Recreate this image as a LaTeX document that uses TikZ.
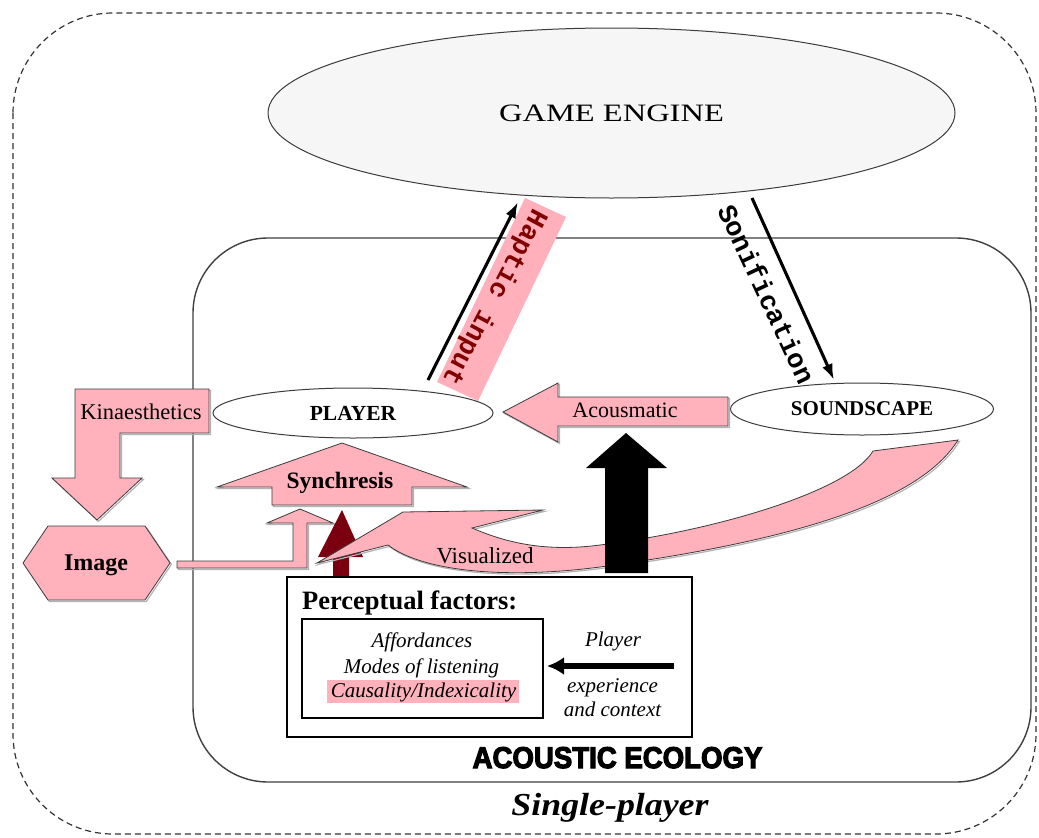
\documentclass[tikz,border=0pt]{standalone}
\usepackage{fontspec}
\setmainfont{Liberation Serif}
\newfontfamily\typefont{Liberation Mono}
\newfontfamily\heavyfont{Liberation Sans}[BoldFeatures={FakeBold=4}]
\usetikzlibrary{shapes.geometric,arrows.meta}
\definecolor{blockpink}{RGB}{255,178,188}
\definecolor{hapticpink}{RGB}{255,176,186}
\definecolor{engfill}{RGB}{246,246,246}
\definecolor{deepred}{RGB}{122,0,16}
\definecolor{haptictext}{RGB}{128,0,0}
\definecolor{edgegray}{RGB}{60,60,60}
\newcommand\fsz[1]{\fontsize{#1}{#1}\selectfont}

\begin{document}
\begin{tikzpicture}[x=1pt,y=-1pt,
  pinkblock/.style={fill=blockpink, draw=edgegray, line width=0.8pt, line join=miter,
    preaction={draw=black!30, line width=1.2pt, transform canvas={shift={(1.4pt,-1.4pt)}}}},
  oval/.style={ellipse, draw=edgegray, line width=1pt, fill=white, inner sep=0pt},
  lbl/.style={inner sep=0pt, anchor=base},
  flowarrow/.style={line width=3.1pt, -{Latex[length=16pt,width=11pt]}},
  vtext/.style={inner sep=0pt, font={\typefont\bfseries\fsz{27}}},
  boxtext/.style={lbl, font={\itshape\fsz{21}}}
]
\useasboundingbox (0,0) rectangle (1039,838);
\fill[white] (0,0) rectangle (1039,838);

% frames: single-player scope and acoustic ecology
\draw[dash pattern=on 6pt off 4pt, draw=black!80, line width=1.2pt, rounded corners=100pt]
  (13,13) rectangle (1036,834);
\draw[draw=black!75, line width=1.4pt, rounded corners=75pt] (193,238) rectangle (1031,782);

% game engine
\node[oval, fill=engfill, minimum width=687pt, minimum height=170pt, font=\fsz{25}]
  (engine) at (611.5,113) {\scalebox{1.3}[1]{GAME ENGINE}};

% haptic input (player -> engine)
\fill[hapticpink] (525,198) -- (566,217) -- (478,401) -- (437,382) -- cycle;
\node[vtext, rotate=-118, text=haptictext] (hapticTxt) at (494,297) {Haptic input};
\coordinate (hapS) at (428,380);
\coordinate (hapE) at (518,202);
\draw[flowarrow] (hapS) -- (hapE);

% sonification (engine -> soundscape)
\node[vtext, rotate=-65] (sonifTxt) at (767,294) {Sonification};
\coordinate (sonS) at (752,198);
\coordinate (sonE) at (834,380);
\draw[flowarrow] (sonS) -- (sonE);

% kinaesthetics bent arrow
\draw[pinkblock] (209,389) -- (75,389) -- (75,478) -- (52,478) -- (97,520) -- (142,478)
  -- (120,478) -- (120,433) -- (209,433) -- cycle;
\node[lbl, font=\fsz{22.5}] (kinTxt) at (141,419) {Kinaesthetics};

% player and soundscape
\node[oval, minimum width=280pt, minimum height=50pt, font={\bfseries\fsz{21.5}}]
  (player) at (353,413) {PLAYER};
\node[oval, minimum width=263pt, minimum height=52pt, font={\bfseries\fsz{21}}]
  (soundscape) at (862,409) {SOUNDSCAPE};

% acousmatic arrow
\draw[pinkblock] (728,397) -- (558,397) -- (558,383) -- (503,412) -- (558,442)
  -- (558,426) -- (728,426) -- cycle;
\node[lbl, font=\fsz{22}] (acousTxt) at (625,417) {Acousmatic};

% synchresis arrow
\draw[pinkblock] (342,443) -- (467,487) -- (412,487) -- (412,505) -- (272,505)
  -- (272,487) -- (217,487) -- cycle;
\node[lbl, font={\bfseries\fsz{23.5}}] (synTxt) at (340,488) {Synchresis};

% image hexagon and its bent arrow
\draw[pinkblock] (23,563) -- (48,526) -- (145,526) -- (170,563) -- (145,600) -- (48,600) -- cycle;
\node[lbl, font={\bfseries\fsz{24}}] (imageTxt) at (96,570) {Image};
\draw[pinkblock] (177,561) -- (293,561) -- (293,523) -- (267,523) -- (300,509) -- (333,523)
  -- (307,523) -- (307,568) -- (177,568) -- cycle;

% dark red arrow from perceptual factors
\fill[deepred] (342,510) -- (363,557) -- (349,557) -- (349,576) -- (333,576) -- (333,557)
  -- (318,557) -- cycle;

% visualized curved arrow
\draw[pinkblock] (317,563) -- (403,512) -- (543,510) -- (472,528)
  .. controls (500,540) and (540,553) .. (600,545)
  .. controls (720,530) and (850,490) .. (873,451)
  -- (958,440)
  .. controls (915,510) and (760,545) .. (600,567)
  .. controls (500,580) and (420,570) .. (388,545) -- cycle;
\node[lbl, font=\fsz{23}] (visTxt) at (485,563) {Visualized};

% black arrow to acousmatic
\fill[black] (626,433) -- (667,468) -- (648,468) -- (648,573) -- (605,573) -- (605,468)
  -- (586,468) -- cycle;

% perceptual factors box
\node[draw, line width=1.3pt, minimum width=405pt, minimum height=160pt, inner sep=0pt]
  (pfBox) at (489.5,657) {};
\node[lbl, anchor=base west, font={\bfseries\fsz{26.5}}] (pfTitle) at (302,609) {Perceptual factors:};
\node[draw, line width=1.2pt, minimum width=241pt, minimum height=99pt, inner sep=0pt]
  (pfInner) at (422.5,668.5) {};
\fill[blockpink] (327,680) rectangle (519,703);
\node[boxtext] (affTxt) at (422,647) {Affordances};
\node[boxtext] (modesTxt) at (421.5,673) {Modes of listening};
\node[boxtext] (causTxt) at (423.5,697) {Causality/Indexicality};
\node[boxtext] (ctxPlayer) at (613,646) {Player};
\node[boxtext] (ctxExp) at (612.5,692) {experience};
\node[boxtext] (ctxAnd) at (612.5,716) {and context};
\coordinate (ctxS) at (674,666);
\coordinate (ctxE) at (547,666);
\draw[line width=5.5pt, -{Latex[length=17pt,width=18pt]}] (ctxS) -- (ctxE);

% titles
\node[lbl, font={\heavyfont\bfseries\fsz{30}}] (ecoTxt) at (617.5,768)
  {\scalebox{0.92}[1]{ACOUSTIC ECOLOGY}};
\node[lbl, font={\bfseries\itshape\fsz{32}}] (spTxt) at (610,815)
  {\scalebox{1.12}[1]{Single-player}};
\end{tikzpicture}
\end{document}
